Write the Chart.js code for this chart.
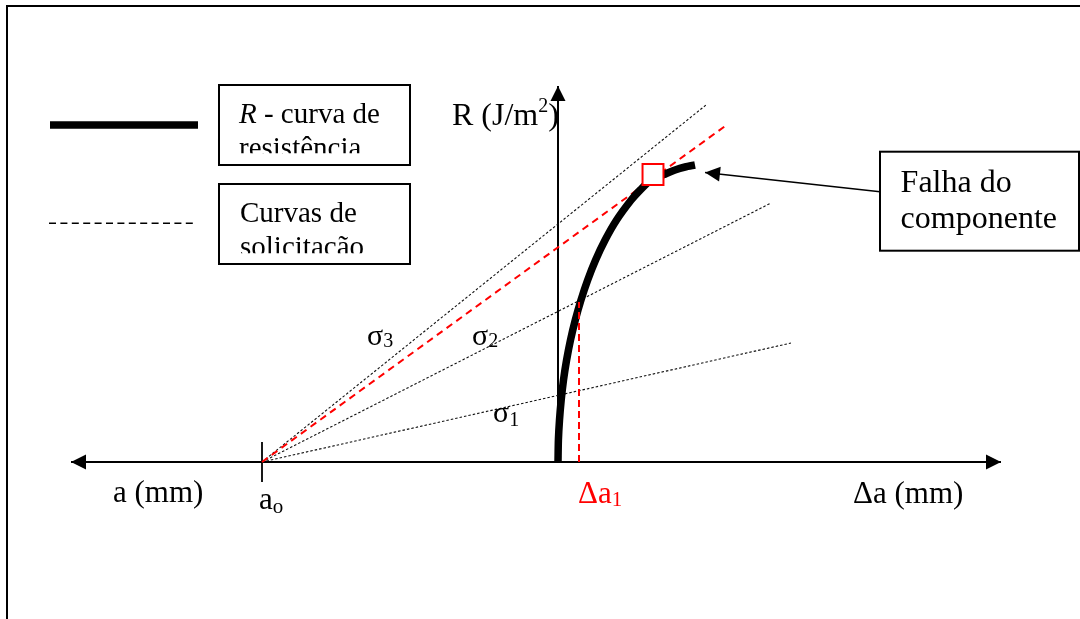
<!DOCTYPE html>
<html><head><meta charset="utf-8">
<script src="https://cdn.jsdelivr.net/npm/chart.js@4.4.1/dist/chart.umd.min.js"></script>
<style>html,body{margin:0;padding:0;background:#fff;}#wrap{width:1080px;height:619px;position:relative;}</style>
</head><body><div id="wrap"><canvas id="c"></canvas></div>
<script>
// ---------------- data (diagram units: Δa horizontally, R vertically) ----------------
const aOrigin = -29.6;                 // a_o on the crack-length axis
const rCurveDeltaA = [0, 0.04, 0.15, 0.32, 0.55, 0.86, 1.25, 1.73, 2.3, 2.97, 3.76, 4.71, 5.86, 7.32, 8.22, 9.29, 10.6, 11.7, 12.7, 13.7];
const rCurveR      = [0, 2.2, 4.2, 6.2, 8.2, 10.2, 12.2, 14.2, 16.2, 18.2, 20.2, 22.2, 24.2, 26.2, 27.2, 28.2, 28.75, 29.2, 29.5, 29.7];
const loadNames    = ['σ1', 'σ2', 'σ3'];
const loadEndDeltaA = [23.3, 21.3, 14.8];
const loadEndR      = [11.9, 25.9, 35.7];
const criticalEndDeltaA = 17.0, criticalEndR = 33.8;
const failureDeltaA = 9.5, failureR = 28.75;
const deltaA1 = 2.1, deltaA1R = 16.0;
const axisAMin = -48.7, axisAMax = 44.3, axisRMax = 37.6, tickHalf = 2.0;
const calloutFrom = [32.2, 27.03], calloutTo = [14.7, 28.95];
const legendLineA = [-50.8, -36.0], legendSolidR = 33.7, legendDashR = 23.87;

const pts = (xs, ys) => xs.map((x, i) => ({x, y: ys[i]}));
const base = {pointRadius: 0, fill: false, tension: 0, clip: false, borderCapStyle: 'butt'};

const datasets = [
  {...base, label: 'falha', data: [{x: failureDeltaA, y: failureR}], showLine: false,
   pointRadius: 14.8, pointStyle: 'rect', borderColor: '#ff0000', backgroundColor: '#ffffff', borderWidth: 2},
  {...base, label: 'da1', data: [{x: deltaA1, y: 0}, {x: deltaA1, y: deltaA1R}],
   borderColor: '#ff0000', borderWidth: 2, borderDash: [7, 4]},
  {...base, label: 'callout', data: [{x: calloutFrom[0], y: calloutFrom[1]}, {x: calloutTo[0], y: calloutTo[1]}],
   borderColor: '#000', borderWidth: 1.5, arrow: 'end'},
  {...base, label: 'R', data: pts(rCurveDeltaA, rCurveR), tension: 0.25, borderJoinStyle: 'round',
   borderColor: '#000', borderWidth: 7.5},
  {...base, label: 'crit', data: [{x: aOrigin, y: 0}, {x: criticalEndDeltaA, y: criticalEndR}],
   borderColor: '#ff0000', borderWidth: 2, borderDash: [7, 5]},
  ...loadNames.map((n, i) => ({...base, label: n,
   data: [{x: aOrigin, y: 0}, {x: loadEndDeltaA[i], y: loadEndR[i]}],
   borderColor: '#111', borderWidth: 1.1, borderDash: [2.5, 2]})),
  {...base, label: 'xaxis', data: [{x: axisAMin, y: 0}, {x: axisAMax, y: 0}], borderColor: '#000', borderWidth: 2, arrow: 'both'},
  {...base, label: 'yaxis', data: [{x: 0, y: 0}, {x: 0, y: axisRMax}], borderColor: '#000', borderWidth: 2, arrow: 'end'},
  {...base, label: 'tick', data: [{x: aOrigin, y: tickHalf}, {x: aOrigin, y: -tickHalf}], borderColor: '#000', borderWidth: 1.8},
  {...base, label: 'legSolid', data: [{x: legendLineA[0], y: legendSolidR}, {x: legendLineA[1], y: legendSolidR}], borderColor: '#000', borderWidth: 7.5},
  {...base, label: 'legDash', data: [{x: legendLineA[0] - 0.1, y: legendDashR}, {x: legendLineA[1] - 0.1, y: legendDashR}], borderColor: '#000', borderWidth: 1.5, borderDash: [7, 4.4]}
];

const SERIF = '"Liberation Serif", "Times New Roman", serif';
function rich(ctx, x, y, parts) {
  let cx = x;
  for (const p of parts) {
    ctx.font = (p.italic ? 'italic ' : '') + p.size + 'px ' + SERIF;
    ctx.fillStyle = p.color || '#000';
    ctx.fillText(p.t, cx, y + (p.dy || 0));
    cx += ctx.measureText(p.t).width;
  }
}

const labels = [
  {at: [-10.6, 33.7], parts: [{t: 'R (J/m', size: 32}, {t: '2', size: 20, dy: -13}, {t: ')', size: 32}]},
  {at: [-44.5, -3.97], parts: [{t: 'a (mm)', size: 31}]},
  {at: [-29.9, -4.73], parts: [{t: 'a', size: 31}, {t: 'o', size: 21, dy: 4}]},
  {at: [2.0, -4.07], parts: [{t: 'Δa', size: 31, color: '#ff0000'}, {t: '1', size: 21, dy: 3.5, color: '#ff0000'}]},
  {at: [29.5, -4.07], parts: [{t: 'Δa (mm)', size: 31}]},
  {at: [-19.1, 11.7], parts: [{t: 'σ', size: 30}, {t: '3', size: 20, dy: 2}]},
  {at: [-8.6, 11.7], parts: [{t: 'σ', size: 30}, {t: '2', size: 20, dy: 2}]},
  {at: [-6.5, 4.03], parts: [{t: 'σ', size: 30}, {t: '1', size: 20, dy: 4}]}
];

const boxes = [
  {x1: -33.9, y1: 37.7, x2: -14.8, y2: 29.7, clipY: 30.87, tx: -31.9,
   lines: [[33.87, [{t: 'R', size: 29, italic: true}, {t: ' - curva de', size: 29}]], [30.47, [{t: 'resistência', size: 29}]]]},
  {x1: -33.9, y1: 27.8, x2: -14.8, y2: 19.8, clipY: 20.87, tx: -31.8,
   lines: [[24.03, [{t: 'Curvas de', size: 29}]], [20.63, [{t: 'solicitação', size: 29}]]]},
  {x1: 32.2, y1: 31.03, x2: 52.1, y2: 21.13, clipY: 21.6, tx: 34.26,
   lines: [[26.97, [{t: 'Falha do', size: 32}]], [23.37, [{t: 'componente', size: 32}]]]}
];

const decor = {
  id: 'decor',
  beforeDatasetsDraw(chart) {
    const ctx = chart.ctx, X = v => chart.scales.x.getPixelForValue(v), Y = v => chart.scales.y.getPixelForValue(v);
    ctx.save();
    ctx.strokeStyle = '#000'; ctx.lineWidth = 2;
    ctx.beginPath();
    ctx.moveTo(X(-55.1), Y(-30)); ctx.lineTo(X(-55.1), Y(45.6)); ctx.lineTo(X(70), Y(45.6));
    ctx.stroke();
    ctx.restore();
  },
  afterDatasetsDraw(chart) {
    const ctx = chart.ctx, X = v => chart.scales.x.getPixelForValue(v), Y = v => chart.scales.y.getPixelForValue(v);
    ctx.save();
    chart.data.datasets.forEach((ds, i) => {
      if (!ds.arrow) return;
      const el = chart.getDatasetMeta(i).data;
      const head = (tip, from) => {
        const dx = tip.x - from.x, dy = tip.y - from.y, L = Math.hypot(dx, dy), ux = dx / L, uy = dy / L;
        const len = 15, w = 7.5;
        ctx.beginPath();
        ctx.moveTo(tip.x, tip.y);
        ctx.lineTo(tip.x - ux * len - uy * w, tip.y - uy * len + ux * w);
        ctx.lineTo(tip.x - ux * len + uy * w, tip.y - uy * len - ux * w);
        ctx.closePath();
        ctx.fillStyle = '#000'; ctx.fill();
      };
      head(el[el.length - 1], el[el.length - 2]);
      if (ds.arrow === 'both') head(el[0], el[1]);
    });
    ctx.textAlign = 'left'; ctx.textBaseline = 'alphabetic';
    for (const b of boxes) {
      const x1 = X(b.x1), y1 = Y(b.y1), x2 = X(b.x2), y2 = Y(b.y2);
      ctx.fillStyle = '#fff'; ctx.fillRect(x1, y1, x2 - x1, y2 - y1);
      ctx.save();
      ctx.beginPath(); ctx.rect(x1, y1, x2 - x1, Y(b.clipY) - y1); ctx.clip();
      for (const [ly, parts] of b.lines) rich(ctx, X(b.tx), Y(ly), parts);
      ctx.restore();
      ctx.strokeStyle = '#000'; ctx.lineWidth = 2; ctx.strokeRect(x1, y1, x2 - x1, y2 - y1);
    }
    for (const l of labels) rich(ctx, X(l.at[0]), Y(l.at[1]), l.parts);
    ctx.restore();
  }
};

new Chart(document.getElementById('c'), {
  type: 'line',
  data: {datasets},
  options: {
    responsive: true, maintainAspectRatio: false, animation: false, devicePixelRatio: 1, events: [],
    layout: {padding: 0, autoPadding: false},
    plugins: {legend: {display: false}, tooltip: {enabled: false}},
    scales: {
      x: {type: 'linear', min: -55.8, max: 52.2, display: false},
      y: {type: 'linear', min: -15.7, max: 46.2, display: false}
    }
  },
  plugins: [decor]
});
</script></body></html>
